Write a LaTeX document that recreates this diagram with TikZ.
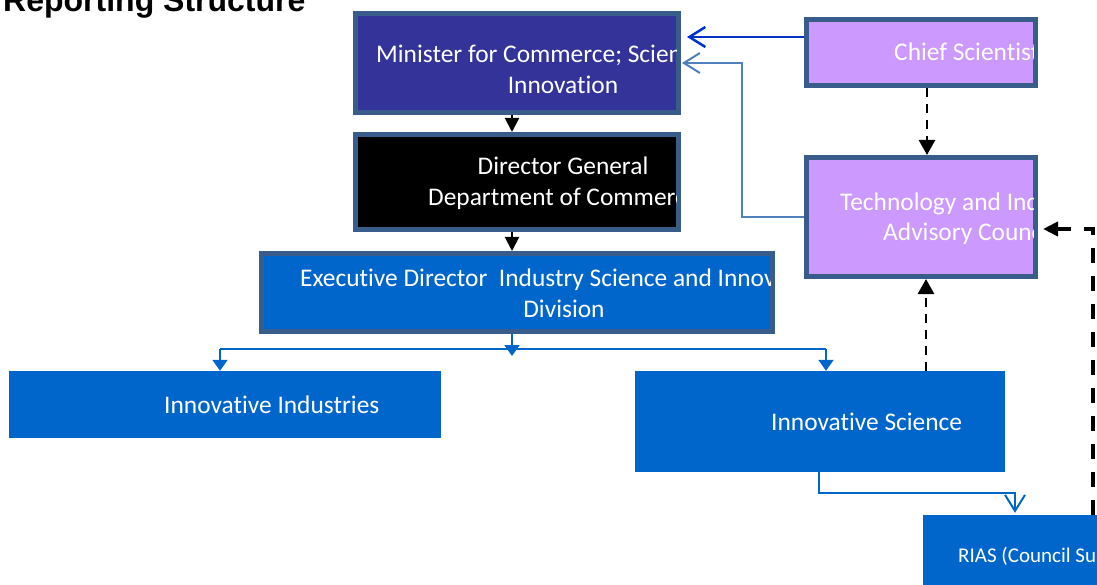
\documentclass[tikz,border=0pt]{standalone}
\usepackage{fontspec}
\setmainfont{Carlito}[Ligatures=NoCommon]
\newfontfamily\titlefont{Liberation Sans}
\usetikzlibrary{arrows.meta}
\definecolor{bordercol}{HTML}{385D8A}
\definecolor{minfill}{HTML}{333399}
\definecolor{bluefill}{HTML}{0066CC}
\definecolor{purplefill}{HTML}{CC99FF}
\definecolor{chiefline}{HTML}{0033CC}
\definecolor{tiacline}{HTML}{4F81BD}
\tikzset{
  box/.style={rectangle, draw=bordercol, line width=5pt, inner sep=0pt},
  plainbox/.style={rectangle, fill=bluefill, inner sep=0pt},
  lbl/.style={text=white, inner sep=0pt, font=\fontsize{25.4}{31}\selectfont},
  small/.style={text=white, inner sep=0pt, font=\fontsize{21}{25}\selectfont},
  blk/.style={line width=2pt, -{Triangle[length=14pt,width=14pt]}},
  dsh/.style={line width=2.7pt, dash pattern=on 9pt off 7pt, -{Triangle[length=15pt,width=16pt]}},
  dshthick/.style={line width=4pt, dash pattern=on 15pt off 13pt, -{Triangle[length=15pt,width=14pt]}},
  blueline/.style={draw=bluefill, line width=2pt},
  bluearr/.style={draw=bluefill, line width=2pt, -{Triangle[length=11pt,width=15pt]}},
  barb/.style={-{Straight Barb[length=16pt,width=20pt]}},
}
\begin{document}
\begin{tikzpicture}[x=1pt,y=-1pt]
\useasboundingbox (0,0) rectangle (1097,585);

% title
\node[anchor=base west, inner sep=0pt, font=\titlefont\bfseries\fontsize{32}{38}\selectfont] (title) at (3,12) {Reporting Structure};

% boxes
\node[box, fill=minfill, minimum width=323pt, minimum height=99pt] (min) at (517,63) {};
\node[box, fill=black, minimum width=323pt, minimum height=95pt] (dg) at (517,182) {};
\node[box, fill=bluefill, minimum width=511pt, minimum height=78pt] (exec) at (517,292.5) {};
\node[box, fill=purplefill, minimum width=229pt, minimum height=66pt] (chief) at (921,52.5) {};
\node[box, fill=purplefill, minimum width=229pt, minimum height=119pt] (tiac) at (921,217) {};
\node[plainbox, minimum width=432pt, minimum height=67pt] (ind) at (225,404.5) {};
\node[plainbox, minimum width=370pt, minimum height=101pt] (sci) at (820,421.5) {};
\node[plainbox, minimum width=240pt, minimum height=80pt] (rias) at (1043,555) {};

% texts, clipped to the inner area of their boxes
\begin{scope}
\clip ([xshift=5pt,yshift=-5pt]min.north west) rectangle ([xshift=-5pt,yshift=5pt]min.south east);
\node[lbl, anchor=base west] (minA) at (376,63) {Minister for Commerce; Science and};
\node[lbl, anchor=base] (minB) at (563,94) {Innovation};
\end{scope}
\begin{scope}
\clip ([xshift=5pt,yshift=-5pt]dg.north west) rectangle ([xshift=-5pt,yshift=5pt]dg.south east);
\node[lbl, anchor=base] (dgA) at (563,175) {Director General};
\node[lbl, anchor=base west] (dgB) at (428,206) {Department of Commerce};
\end{scope}
\begin{scope}
\clip ([xshift=5pt,yshift=-5pt]exec.north west) rectangle ([xshift=-5pt,yshift=5pt]exec.south east);
\node[lbl, anchor=base west] (execA) at (300,287) {Executive Director\ \ Industry Science and Innovation};
\node[lbl, anchor=base] (execB) at (564,317) {Division};
\end{scope}
\begin{scope}
\clip ([xshift=5pt,yshift=-5pt]chief.north west) rectangle ([xshift=-5pt,yshift=5pt]chief.south east);
\node[lbl, anchor=base west] (chiefA) at (894,61) {Chief Scientist};
\end{scope}
\begin{scope}
\clip ([xshift=5pt,yshift=-5pt]tiac.north west) rectangle ([xshift=-5pt,yshift=5pt]tiac.south east);
\node[lbl, anchor=base west] (tiacA) at (840,211) {Technology and Industry};
\node[lbl, anchor=base west] (tiacB) at (883,241) {Advisory Council};
\end{scope}
\node[lbl, anchor=base west] (indA) at (164,413) {Innovative Industries};
\node[lbl, anchor=base west] (sciA) at (771,430) {Innovative Science};
\node[small, anchor=base west] (riasA) at (958,562) {RIAS (Council Support)};

% black connectors
\coordinate (cx) at (512,0);
\draw[blk] (cx |- min.south) -- (cx |- dg.north);
\draw[blk] (cx |- dg.south) -- (cx |- exec.north);

% blue org connectors
\coordinate (execTip) at (512,356);
\coordinate (barL) at (220,349);
\coordinate (barR) at (826,349);
\draw[blueline] (barL) -- (barR);
\draw[bluearr] (cx |- exec.south) -- (execTip);
\draw[bluearr] (barL) -- (barL |- ind.north);
\draw[bluearr] (barR) -- (barR |- sci.north);

% science to RIAS
\coordinate (sx) at (819,493);
\coordinate (rx) at (1015,0);
\draw[blueline, barb, shorten >=2pt] (sx |- sci.south) -- (sx) -| (rx |- rias.north);

% chief scientist to minister
\coordinate (cy) at ([yshift=15.5pt]chief.west);
\draw[chiefline, line width=2.5pt, barb, shorten >=6pt] (cy) -- (cy -| min.east);

% council to minister
\coordinate (ty) at (742,63);
\draw[tiacline, line width=2pt, barb, shorten >=1pt] (tiac.west) -| (ty) -- (ty -| min.east);

% dashed links
\coordinate (dx) at (927,0);
\draw[dsh] (dx |- chief.south) -- (dx |- tiac.north);
\coordinate (ex) at (926,0);
\draw[dsh] (ex |- sci.north) -- (ex |- tiac.south);
\coordinate (rc) at (1093,229);
\draw[dshthick, shorten >=5pt] (rc |- rias.north) -- (rc) -- (rc -| tiac.east);
\end{tikzpicture}
\end{document}
